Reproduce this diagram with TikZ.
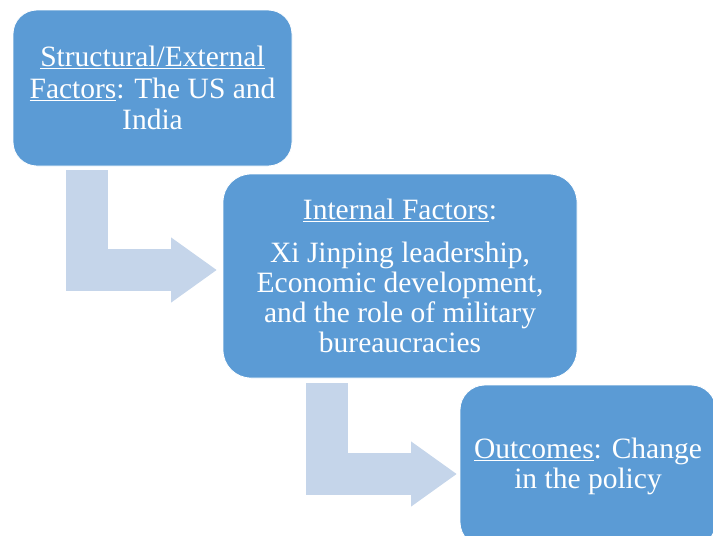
\documentclass[tikz,border=0pt]{standalone}
\usepackage{fontspec}
\setmainfont{Liberation Serif}
\usetikzlibrary{arrows.meta}
\definecolor{boxblue}{HTML}{5B9BD5}
\definecolor{arrowblue}{HTML}{C5D5EA}
\begin{document}
\begin{tikzpicture}[x=1pt,y=1pt,
  box/.style={draw=white, line width=0.8pt, fill=boxblue, text=white, align=center,
    inner sep=0pt, font=\fontsize{29.5}{31.5}\selectfont},
  bent/.style={draw=arrowblue, line width=42pt, line join=miter, line cap=butt,
    -{Triangle[length=46pt 0 0,width=62pt 0 0]}}]
\useasboundingbox (0,0) rectangle (713,-536);
\clip (0,0) rectangle (713,-536);
% boxes
\node[box, rounded corners=24pt, minimum width=279pt, minimum height=156pt] (box1) at (152.5,-88)
  {\underline{Structural/External}\\\underline{Factors}: The US and\\India};
\node[box, rounded corners=28pt, minimum width=354pt, minimum height=204pt,
  font=\fontsize{29.5}{30}\selectfont] (box2) at (400,-276)
  {\underline{Internal Factors}:\\[13pt]Xi Jinping leadership,\\Economic development,\\and the role of military\\bureaucracies};
\node[box, rounded corners=25pt, minimum width=256pt, minimum height=162pt,
  font=\fontsize{29.5}{30}\selectfont] (box3) at (588,-466)
  {\underline{Outcomes}: Change\\in the policy};
% bent arrows
\coordinate (a1s) at (87,-170);
\coordinate (a1e) at (217,-270);
\draw[bent] (a1s) |- (a1e);
\coordinate (a2s) at (326.5,-383);
\coordinate (a2e) at (457,-474);
\draw[bent] (a2s) |- (a2e);
\end{tikzpicture}
\end{document}
